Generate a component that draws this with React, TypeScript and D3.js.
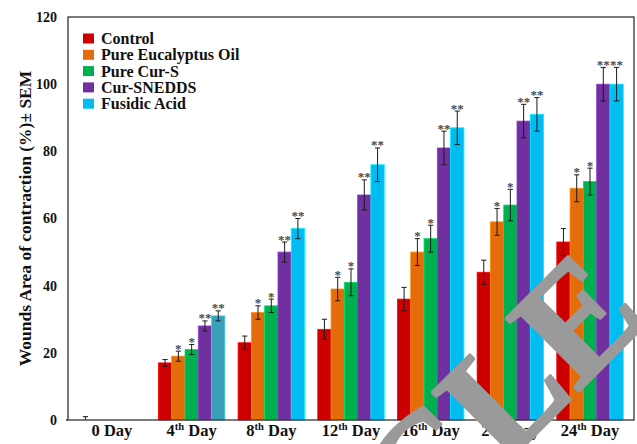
import React from "react";
import * as d3 from "d3";

// Healing days (category axis)
const dayNumbers = ["0", "4", "8", "12", "16", "20", "24"];
const daySuffix = ["", "th", "th", "th", "th", "th", "th"];

// Treatment groups
const seriesNames = ["Control", "Pure Eucalyptus Oil", "Pure Cur-S", "Cur-SNEDDS", "Fusidic Acid"];

// Wound contraction (%) per day, mean values
const controlValues = [0, 17, 23, 27, 36, 44, 53];
const eucalyptusValues = [0, 19, 32, 39, 50, 59, 69];
const curSValues = [0, 21, 34, 41, 54, 64, 71];
const sneddsValues = [0, 28, 50, 67, 81, 89, 100];
const fusidicValues = [0, 31, 57, 76, 87, 91, 100];

// SEM per day
const controlSem = [1, 1, 2, 3, 3.5, 3.6, 4];
const eucalyptusSem = [0, 1.5, 2, 3.5, 4, 4, 4];
const curSSem = [0, 1.5, 2, 4, 4, 4.7, 4];
const sneddsSem = [0, 1.5, 3, 4.5, 5, 5, 5];
const fusidicSem = [0, 1.5, 3, 5, 5, 5, 5];

// Significance markers
const controlSig = ["", "", "", "", "", "", ""];
const eucalyptusSig = ["", "*", "*", "*", "*", "*", "*"];
const curSSig = ["", "*", "*", "*", "*", "*", "*"];
const sneddsSig = ["", "**", "**", "**", "**", "**", "**"];
const fusidicSig = ["", "**", "**", "**", "**", "**", "**"];

const yTicks = [0, 20, 40, 60, 80, 100, 120];

const seriesValues = [controlValues, eucalyptusValues, curSValues, sneddsValues, fusidicValues];
const seriesSem = [controlSem, eucalyptusSem, curSSem, sneddsSem, fusidicSem];
const seriesSig = [controlSig, eucalyptusSig, curSSig, sneddsSig, fusidicSig];

const colors = ["#CC0000", "#E46C0A", "#00B050", "#7030A0", "#00BCF0"];
const fusidicDay4Fill = "#38A0B8";

const W = 637;
const H = 444;
const plotLeft = 68;
const plotRight = 634;
const plotTop = 17;
const plotBottom = 420;
const serif = "'Liberation Serif', 'Times New Roman', serif";

export default function App() {
  const x0 = d3
    .scaleBand<string>()
    .domain(dayNumbers)
    .range([plotLeft, plotRight])
    .paddingInner(0.166)
    .paddingOuter(0.135);
  const x1 = d3
    .scaleBand<string>()
    .domain(seriesNames)
    .range([0, x0.bandwidth()]);
  const y = d3.scaleLinear().domain([0, 120]).range([plotBottom, plotTop]);

  const wmSize = 157;

  return (
    <svg
      width={W}
      height={H}
      viewBox={`0 0 ${W} ${H}`}
      style={{ position: "absolute", left: 0, top: 0, background: "#fff" }}
      fontFamily={serif}
    >
      <rect x={0} y={0} width={W} height={H} fill="#fff" />

      {/* bars */}
      {seriesNames.map((name, si) =>
        dayNumbers.map((d, di) => {
          const v = seriesValues[si][di];
          if (v <= 0) return null;
          const fill = si === 4 && di === 1 ? fusidicDay4Fill : colors[si];
          const bx = (x0(d) ?? 0) + (x1(name) ?? 0);
          return (
            <rect
              key={`b-${si}-${di}`}
              x={bx}
              y={y(v)}
              width={x1.bandwidth()}
              height={y(0) - y(v)}
              fill={fill}
              stroke={d3.color(fill)!.brighter(0.7).formatHex()}
              strokeWidth={0.8}
            />
          );
        })
      )}

      {/* error bars and significance stars */}
      {seriesNames.map((name, si) =>
        dayNumbers.map((d, di) => {
          const v = seriesValues[si][di];
          const e = seriesSem[si][di];
          if (e <= 0) return null;
          const cx = (x0(d) ?? 0) + (x1(name) ?? 0) + x1.bandwidth() / 2;
          const top = y(v + e);
          const lowV = v - e;
          const bot = y(Math.max(0, lowV));
          const cap = 2.6;
          const sig = seriesSig[si][di];
          return (
            <g key={`e-${si}-${di}`}>
              <line x1={cx} x2={cx} y1={top} y2={bot} stroke="#1a1a1a" strokeWidth={1} />
              <line x1={cx - cap} x2={cx + cap} y1={top} y2={top} stroke="#1a1a1a" strokeWidth={1} />
              {lowV > 0 && (
                <line x1={cx - cap} x2={cx + cap} y1={bot} y2={bot} stroke="#1a1a1a" strokeWidth={1} />
              )}
              {sig && (
                <text
                  x={cx}
                  y={top + 1.5}
                  textAnchor="middle"
                  fontSize={13}
                  fontWeight="bold"
                  fill="#4a4a4a"
                >
                  {sig}
                </text>
              )}
            </g>
          );
        })
      )}

      {/* frame */}
      <rect
        x={plotLeft}
        y={plotTop}
        width={plotRight - plotLeft}
        height={plotBottom - plotTop}
        fill="none"
        stroke="#333"
        strokeWidth={1.3}
      />
      <line x1={plotLeft - 2} x2={plotLeft} y1={plotBottom} y2={plotBottom} stroke="#333" strokeWidth={1.3} />

      {/* y tick labels */}
      {yTicks.map((t) => (
        <text
          key={`yt-${t}`}
          x={57}
          y={y(t)}
          dy="0.35em"
          textAnchor="end"
          fontSize={14}
          fontWeight="bold"
          fill="#111"
        >
          {t}
        </text>
      ))}

      {/* y axis title */}
      <text
        transform={`translate(31,${218.5}) rotate(-90)`}
        textAnchor="middle"
        fontSize={17.5}
        fontWeight="bold"
        fill="#111"
      >
        Wounds Area of contraction (%)± SEM
      </text>

      {/* x category labels */}
      {dayNumbers.map((d, i) => (
        <text
          key={`xl-${d}`}
          x={(x0(d) ?? 0) + x0.bandwidth() / 2}
          y={435.5}
          textAnchor="middle"
          fontSize={16.5}
          fontWeight="bold"
          fill="#111"
        >
          {d}
          {daySuffix[i] && (
            <tspan fontSize={10.5} dy={-6}>
              {daySuffix[i]}
            </tspan>
          )}
          <tspan dy={daySuffix[i] ? 6 : 0}>{" Day"}</tspan>
        </text>
      ))}

      {/* legend */}
      {seriesNames.map((name, i) => {
        const cy = 38.5 + i * 16.3;
        return (
          <g key={`lg-${i}`}>
            <rect x={83} y={cy - 5} width={11} height={10} fill={colors[i]} />
            <text x={101} y={cy + 5.5} fontSize={16} fontWeight="bold" fill="#111">
              {name}
            </text>
          </g>
        );
      })}

      {/* diagonal stamp */}
      <g
        transform="translate(577,393) rotate(-45)"
        fill="#9a9a9a"
        stroke="#9a9a9a"
        strokeWidth={3}
        strokeLinejoin="round"
        fontSize={wmSize}
        fontWeight="bold"
      >
        <text x={0} y={0} textAnchor="end">ARTICL</text>
        <text x={0} y={0} textAnchor="start">E</text>
      </g>
    </svg>
  );
}
